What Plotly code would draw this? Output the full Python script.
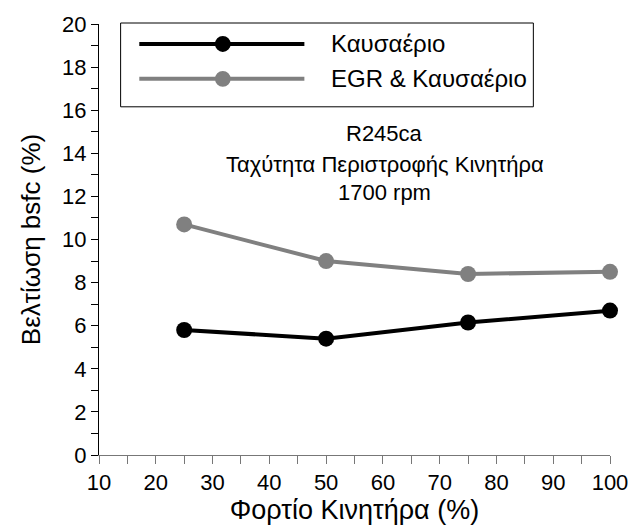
import plotly.graph_objects as go

# Engine load (%) and bsfc improvement (%) for each heat-recovery configuration
engine_load = [25, 50, 75, 100]
exhaust_only = [5.8, 5.4, 6.15, 6.7]
egr_and_exhaust = [10.7, 9.0, 8.4, 8.5]

series_names = ["Καυσαέριο", "EGR & Καυσαέριο"]
series_colors = ["#000000", "#808080"]

FONT = "Liberation Sans, Arial, sans-serif"

fig = go.Figure()
for name, vals, col in zip(series_names, [exhaust_only, egr_and_exhaust], series_colors):
    fig.add_trace(go.Scatter(
        x=engine_load, y=vals, name=name, mode="lines+markers",
        line=dict(color=col, width=4),
        marker=dict(color=col, size=16, symbol="circle"),
        cliponaxis=False, showlegend=False,
    ))

# Hand-built legend box with long sample lines
W, H = 520.0, 432.0  # plot area size in pixels


def px(x):
    return (x - 99) / W


def py(y):
    return (455 - y) / H


shapes = [dict(type="rect", xref="paper", yref="paper",
               x0=px(121), x1=px(541), y0=py(106), y1=py(22),
               line=dict(color="black", width=1), fillcolor="white", layer="above")]
annotations = []
for i, (name, col) in enumerate(zip(series_names, series_colors)):
    yy = 43 + i * 35
    shapes.append(dict(type="line", xref="paper", yref="paper",
                       x0=px(140), x1=px(308), y0=py(yy), y1=py(yy),
                       line=dict(color=col, width=4), layer="above"))
    shapes.append(dict(type="circle", xref="paper", yref="paper",
                       x0=px(225 - 8), x1=px(225 + 8), y0=py(yy + 8), y1=py(yy - 8),
                       line=dict(color=col, width=0), fillcolor=col, layer="above"))
    annotations.append(dict(xref="paper", yref="paper", x=px(333), y=py(yy),
                            xanchor="left", yanchor="middle", showarrow=False,
                            text=name, font=dict(family=FONT, size=24, color="black")))

# Operating-condition note
for text, yy in [("R245ca", 133), ("Ταχύτητα Περιστροφής Κινητήρα", 164), ("1700 rpm", 192)]:
    annotations.append(dict(xref="paper", yref="paper", x=px(390), y=py(yy),
                            xanchor="center", yanchor="middle", showarrow=False,
                            text=text, font=dict(family=FONT, size=22, color="black")))

fig.update_layout(
    width=640, height=528,
    margin=dict(l=99, r=21, t=23, b=73),
    paper_bgcolor="white", plot_bgcolor="white",
    font=dict(family=FONT, size=22, color="black"),
    shapes=shapes, annotations=annotations,
    xaxis=dict(
        range=[10, 100], dtick=10, tick0=10,
        showline=True, linecolor="#777777", linewidth=1,
        ticks="outside", ticklen=8, tickcolor="#777777", tickwidth=1,
        minor=dict(dtick=5, tick0=10, ticks="outside", ticklen=8, tickcolor="#777777", tickwidth=1),
        showgrid=False, zeroline=False,
        tickfont=dict(size=22),
        title=dict(text="Φορτίο Κινητήρα (%)", font=dict(size=27), standoff=2),
    ),
    yaxis=dict(
        range=[0, 20], dtick=2, tick0=0,
        showline=True, linecolor="black", linewidth=1,
        ticks="outside", ticklen=7, tickcolor="black", tickwidth=1,
        minor=dict(dtick=1, tick0=0, ticks="outside", ticklen=7, tickcolor="black", tickwidth=1),
        showgrid=False, zeroline=False,
        tickfont=dict(size=22),
        title=dict(text="Βελτίωση bsfc (%)", font=dict(size=26), standoff=14),
    ),
)

fig.write_html("out.html")
